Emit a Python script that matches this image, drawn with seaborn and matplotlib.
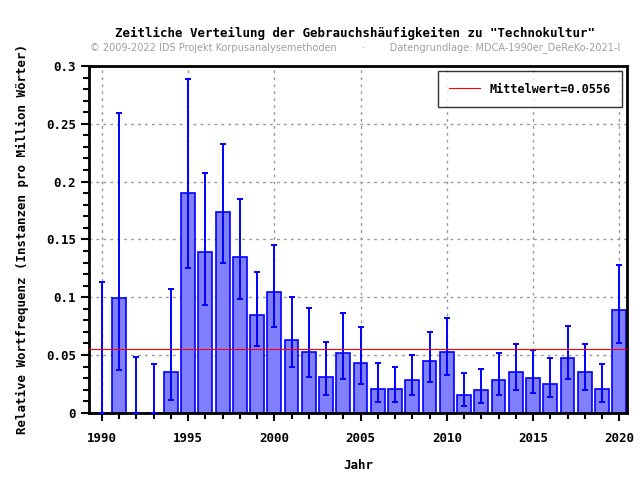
import numpy as np
import pandas as pd
import matplotlib
matplotlib.use('Agg')
import matplotlib.pyplot as plt
from matplotlib.ticker import MultipleLocator, FuncFormatter
import seaborn as sns

# Data
years = list(range(1990, 2021))
freq = [0.0, 0.099, 0.0, 0.0, 0.0357, 0.1905, 0.1395, 0.174, 0.1352, 0.0842,
        0.1049, 0.0634, 0.053, 0.0314, 0.0513, 0.0435, 0.021, 0.0202, 0.028, 0.0444,
        0.0522, 0.015, 0.0193, 0.0288, 0.0349, 0.0305, 0.0253, 0.0478, 0.0349, 0.0202,
        0.0885]
err_low = [0.0, 0.0372, 0.0, 0.0, 0.0112, 0.1254, 0.0934, 0.130, 0.0986, 0.0579,
           0.0744, 0.0398, 0.0311, 0.0156, 0.0294, 0.0251, 0.0095, 0.0095, 0.0156, 0.0268,
           0.0329, 0.006, 0.0086, 0.0156, 0.0199, 0.0167, 0.0138, 0.0294, 0.0199, 0.0095,
           0.0608]
err_high = [0.1135, 0.2596, 0.0487, 0.0418, 0.1072, 0.2888, 0.2075, 0.2326, 0.185, 0.1222,
            0.1452, 0.1003, 0.0908, 0.0614, 0.0867, 0.0738, 0.0432, 0.040, 0.0504, 0.0703,
            0.0824, 0.0346, 0.0383, 0.0513, 0.0599, 0.0547, 0.047, 0.0755, 0.0599, 0.0418,
            0.1282]
mean_val = 0.0556

df = pd.DataFrame({'Jahr': years, 'freq': freq, 'lo': err_low, 'hi': err_high})

plt.rcParams['font.family'] = ['DejaVu Sans Mono']
fig = plt.figure(figsize=(6.4, 4.8), dpi=100)
ax = fig.add_axes([0.139, 0.14, 0.841, 0.7225])

sns.barplot(data=df, x='Jahr', y='freq', native_scale=True, width=0.8,
            color='#8080ff', saturation=1, edgecolor='#0000ff', linewidth=1.2,
            errorbar=None, ax=ax, zorder=2)

yerr = np.array([df['freq'] - df['lo'], df['hi'] - df['freq']])
ax.errorbar(df['Jahr'], df['freq'], yerr=yerr, fmt='none', ecolor='#0000ff',
            elinewidth=1.4, capsize=2.5, capthick=1.4, zorder=3)

ax.axhline(mean_val, color='red', linewidth=0.8, zorder=4,
           label=f'Mittelwert={mean_val}')

ax.set_xlim(1989.25, 2020.46)
ax.set_ylim(0, 0.3)
ax.xaxis.set_major_locator(MultipleLocator(5))
ax.xaxis.set_minor_locator(MultipleLocator(1))
ax.yaxis.set_major_locator(MultipleLocator(0.05))
ax.yaxis.set_minor_locator(MultipleLocator(0.01))
ax.yaxis.set_major_formatter(FuncFormatter(lambda v, p: f'{v:g}'))
ax.xaxis.set_major_formatter(FuncFormatter(lambda v, p: f'{int(v)}'))
ax.tick_params(which='major', length=6, width=1.5, direction='out', labelsize=9)
ax.tick_params(axis='x', which='major', pad=8)
ax.tick_params(which='minor', length=4, width=1.5, direction='out')
for lab in ax.get_xticklabels() + ax.get_yticklabels():
    lab.set_fontweight('bold')
for s in ax.spines.values():
    s.set_linewidth(2)
ax.grid(True, which='major', linestyle=(0, (2, 3)), color='#999999', linewidth=1)
ax.set_axisbelow(True)

ax.set_xlabel('Jahr', fontsize=9, fontweight='bold', labelpad=10)
ax.set_ylabel('Relative Wortfrequenz (Instanzen pro Million Wörter)', fontsize=9,
              fontweight='bold', labelpad=12)

leg = ax.legend(loc='upper right', fontsize=8.5, frameon=True, fancybox=False,
                edgecolor='black', handlelength=2.6, borderpad=1.0, borderaxespad=0.4)
leg.get_frame().set_linewidth(1)
for t in leg.get_texts():
    t.set_fontweight('bold')

fig.text(0.555, 0.922, 'Zeitliche Verteilung der Gebrauchshäufigkeiten zu "Technokultur"',
         ha='center', fontsize=9, fontweight='bold')
fig.text(0.555, 0.896, '© 2009-2022 IDS Projekt Korpusanalysemethoden        ·        Datengrundlage: MDCA-1990er_DeReKo-2021-I',
         ha='center', fontsize=7, color='#a0a0a0', family='DejaVu Sans')

fig.savefig('out.png', dpi=100)
